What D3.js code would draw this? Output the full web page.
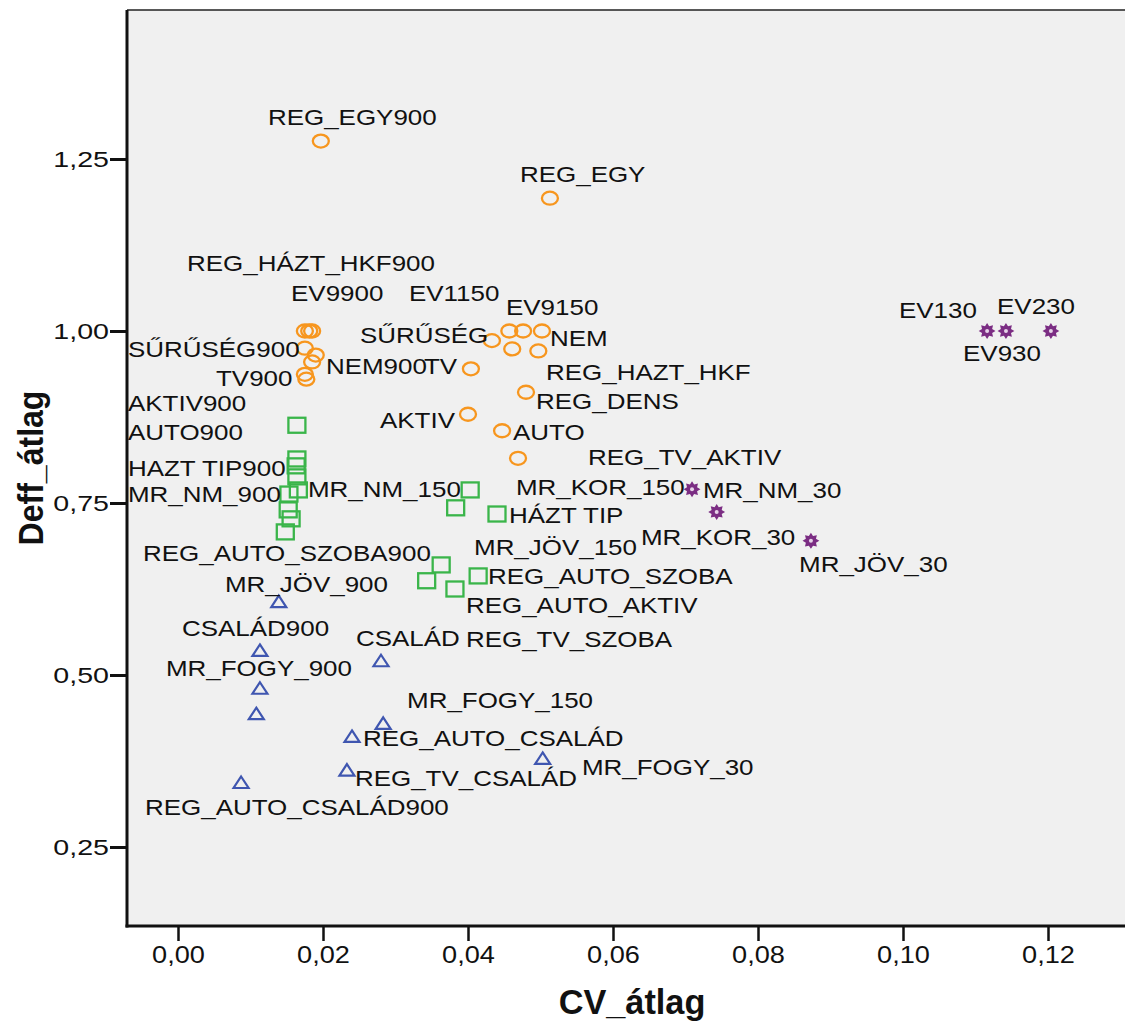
<!DOCTYPE html>
<html>
<head>
<meta charset="utf-8">
<script src="https://cdn.jsdelivr.net/npm/d3@7"></script>
<style>
  html, body { margin: 0; padding: 0; background: #ffffff; }
  svg { display: block; }
  text { font-family: "Liberation Sans", Arial, sans-serif; fill: #111; }
</style>
</head>
<body>
<svg id="chart" width="1125" height="1025"></svg>
<script>
// Design-effect averages (Deff_átlag) against CV averages (CV_átlag), grouped by sample size
const orangeCV   = [0.0197, 0.0513, 0.0175, 0.0181, 0.0175, 0.0190, 0.0175, 0.0177, 0.0185, 0.0185,
                    0.0433, 0.0457, 0.0476, 0.0502, 0.0461, 0.0497, 0.0404, 0.0480, 0.0400, 0.0447, 0.0469];
const orangeDeff = [1.276, 1.193, 1.000, 1.000, 0.975, 0.965, 0.937, 0.930, 1.000, 0.955,
                    0.986, 1.000, 1.000, 1.000, 0.974, 0.971, 0.945, 0.911, 0.879, 0.855, 0.815];

const greenCV   = [0.0164, 0.0164, 0.0163, 0.0164, 0.0166, 0.0153, 0.0152, 0.0156, 0.0148,
                   0.0403, 0.0383, 0.0440, 0.0363, 0.0343, 0.0414, 0.0382];
const greenDeff = [0.863, 0.814, 0.804, 0.788, 0.769, 0.763, 0.740, 0.727, 0.708,
                   0.769, 0.743, 0.734, 0.660, 0.637, 0.644, 0.625];

const blueCV   = [0.0139, 0.0113, 0.0280, 0.0113, 0.0108, 0.0283, 0.0240, 0.0233, 0.0087, 0.0503];
const blueDeff = [0.606, 0.535, 0.520, 0.480, 0.443, 0.429, 0.410, 0.361, 0.343, 0.378];

const purpleCV   = [0.1116, 0.1142, 0.1204, 0.0709, 0.0743, 0.0873];
const purpleDeff = [1.000, 1.000, 1.000, 0.770, 0.737, 0.695];

// Axis ticks
const xTicks = [0, 0.02, 0.04, 0.06, 0.08, 0.10, 0.12];
const yTicks = [0.25, 0.50, 0.75, 1.00, 1.25];

// Point labels: text and the data-space position of the label's left baseline
const labelText = ["REG_EGY900", "REG_EGY", "REG_HÁZT_HKF900", "EV9900", "EV1150", "EV9150", "SŰRŰSÉG900", "SŰRŰSÉG", "NEM",
  "NEM900", "TV", "TV900", "REG_HAZT_HKF", "REG_DENS", "AKTIV", "AUTO", "REG_TV_AKTIV", "AKTIV900", "AUTO900",
  "HAZT TIP900", "MR_NM_900", "MR_NM_150", "MR_KOR_150", "MR_NM_30", "HÁZT TIP", "MR_KOR_30", "MR_JÖV_150",
  "REG_AUTO_SZOBA900", "MR_JÖV_30", "REG_AUTO_SZOBA", "MR_JÖV_900", "REG_AUTO_AKTIV", "CSALÁD900", "CSALÁD",
  "REG_TV_SZOBA", "MR_FOGY_900", "MR_FOGY_150", "REG_AUTO_CSALÁD", "MR_FOGY_30", "REG_TV_CSALÁD",
  "REG_AUTO_CSALÁD900", "EV130", "EV230", "EV930"];
const labelCV = [0.01241, 0.04717, 0.00124, 0.01559, 0.03186, 0.04524, -0.00690, 0.02510, 0.05131,
  0.02041, 0.03393, 0.00524, 0.05076, 0.04938, 0.02786, 0.04621, 0.05655, -0.00690, -0.00690,
  -0.00690, -0.00690, 0.01793, 0.04662, 0.07241, 0.04566, 0.06386, 0.04083,
  -0.00483, 0.08566, 0.04276, 0.00648, 0.03972, 0.00055, 0.02455,
  0.03972, -0.00166, 0.03159, 0.02552, 0.05572, 0.02441,
  -0.00455, 0.09945, 0.11297, 0.10828];
const labelDeff = [1.2994, 1.2166, 1.0872, 1.0436, 1.0436, 1.0233, 0.9622, 0.9826, 0.9782,
  0.9375, 0.9375, 0.9201, 0.9288, 0.8866, 0.8590, 0.8416, 0.8052, 0.8837, 0.8416,
  0.7892, 0.7515, 0.7587, 0.7616, 0.7573, 0.7209, 0.6890, 0.6744,
  0.6657, 0.6497, 0.6323, 0.6206, 0.5901, 0.5567, 0.5422,
  0.5407, 0.4985, 0.4520, 0.3968, 0.3547, 0.3387,
  0.2965, 1.0189, 1.0247, 0.9564];

const frame = { left: 127, right: 1125, top: 10, bottom: 926 };
const stretch = 1.18; // horizontal text stretch

const svg = d3.select("#chart");

const x = d3.scaleLinear().domain([0, 0.12]).range([178, 1048]);
const y = d3.scaleLinear().domain([0.25, 1.25]).range([847, 159]);

const comma = d => d3.format(".2f")(d).replace(".", ",");

// Plot background
svg.append("rect")
  .attr("x", frame.left).attr("y", frame.top)
  .attr("width", frame.right - frame.left).attr("height", frame.bottom - frame.top)
  .attr("fill", "#f0f0f0");
svg.append("line")
  .attr("x1", frame.left).attr("x2", frame.right)
  .attr("y1", frame.top).attr("y2", frame.top)
  .attr("stroke", "#222").attr("stroke-width", 1.5);

// Markers
const g = svg.append("g");

g.selectAll("ellipse.o").data(orangeCV).join("ellipse")
  .attr("cx", d => x(d)).attr("cy", (d, i) => y(orangeDeff[i]))
  .attr("rx", 8).attr("ry", 6.5)
  .attr("fill", "none").attr("stroke", "#f7961e").attr("stroke-width", 2.3);

g.selectAll("rect.sq").data(greenCV).join("rect")
  .attr("x", d => x(d) - 8.5).attr("y", (d, i) => y(greenDeff[i]) - 7.5)
  .attr("width", 17).attr("height", 15)
  .attr("fill", "none").attr("stroke", "#3ab54a").attr("stroke-width", 2.3);

const tri = "M0,-6.5 L7.5,5 L-7.5,5 Z";
g.selectAll("path.tri").data(blueCV).join("path")
  .attr("transform", (d, i) => `translate(${x(d)},${y(blueDeff[i])})`)
  .attr("d", tri)
  .attr("fill", "none").attr("stroke", "#3f56b0").attr("stroke-width", 2.2)
  .attr("stroke-linejoin", "miter");

// eight-petal star
const starPts = d3.range(16).map(k => {
  const a = k * Math.PI / 8 - Math.PI / 2;
  const r = k % 2 === 0 ? 8 : 5.2;
  return [r * Math.cos(a) * 1.05, r * Math.sin(a)];
});
const starPath = "M" + starPts.map(p => p.join(",")).join("L") + "Z";
const stars = g.selectAll("g.star").data(purpleCV).join("g")
  .attr("transform", (d, i) => `translate(${x(d)},${y(purpleDeff[i])})`);
stars.append("path").attr("d", starPath).attr("fill", "#7b2d83");
stars.append("circle").attr("r", 2).attr("fill", "#e6d3e8");

// Point labels
svg.append("g").selectAll("text").data(labelText).join("text")
  .attr("transform", (d, i) => `translate(${x(labelCV[i])},${y(labelDeff[i])}) scale(${stretch},1)`)
  .attr("font-size", 22)
  .text(d => d);

// Axes
const xAxis = d3.axisBottom(x).tickValues(xTicks).tickFormat(comma).tickSize(15).tickPadding(6);
const yAxis = d3.axisLeft(y).tickValues(yTicks).tickFormat(comma).tickSize(17).tickPadding(1);

const gx = svg.append("g").attr("transform", `translate(0,${frame.bottom})`).call(xAxis);
gx.select(".domain").remove();
gx.selectAll(".tick line").attr("stroke", "#111").attr("stroke-width", 2.5);
gx.selectAll(".tick text")
  .attr("font-family", "Liberation Sans, Arial, sans-serif")
  .attr("font-size", 23).attr("fill", "#111")
  .attr("dy", "0.71em")
  .each(function () {
    const t = d3.select(this);
    const ty = t.attr("y") || 0;
    t.attr("transform", `translate(0,${ty}) scale(${stretch},1)`).attr("y", 0);
  });

const gy = svg.append("g").attr("transform", `translate(${frame.left},0)`).call(yAxis);
gy.select(".domain").remove();
gy.selectAll(".tick line").attr("stroke", "#111").attr("stroke-width", 3);
gy.selectAll(".tick text")
  .attr("font-family", "Liberation Sans, Arial, sans-serif")
  .attr("font-size", 22).attr("fill", "#111")
  .each(function () {
    const t = d3.select(this);
    const tx = +t.attr("x");
    t.attr("transform", `translate(${tx},0) scale(1.3,1)`).attr("x", 0);
  });

// Frame: left and bottom axis lines
svg.append("line")
  .attr("x1", frame.left).attr("x2", frame.left)
  .attr("y1", frame.top).attr("y2", frame.bottom + 1.5)
  .attr("stroke", "#111").attr("stroke-width", 3);
svg.append("line")
  .attr("x1", frame.left - 1.5).attr("x2", frame.right)
  .attr("y1", frame.bottom).attr("y2", frame.bottom)
  .attr("stroke", "#111").attr("stroke-width", 3);

// Axis titles
svg.append("text")
  .attr("transform", `translate(${(frame.left + frame.right) / 2 + 6},1014) scale(0.98,1)`)
  .attr("text-anchor", "middle")
  .attr("font-size", 35).attr("font-weight", "bold")
  .text("CV_átlag");
svg.append("text")
  .attr("transform", `translate(43,${(frame.top + frame.bottom) / 2}) rotate(-90) scale(0.89,1)`)
  .attr("text-anchor", "middle")
  .attr("font-size", 36).attr("font-weight", "bold")
  .text("Deff_átlag");
</script>
</body>
</html>
